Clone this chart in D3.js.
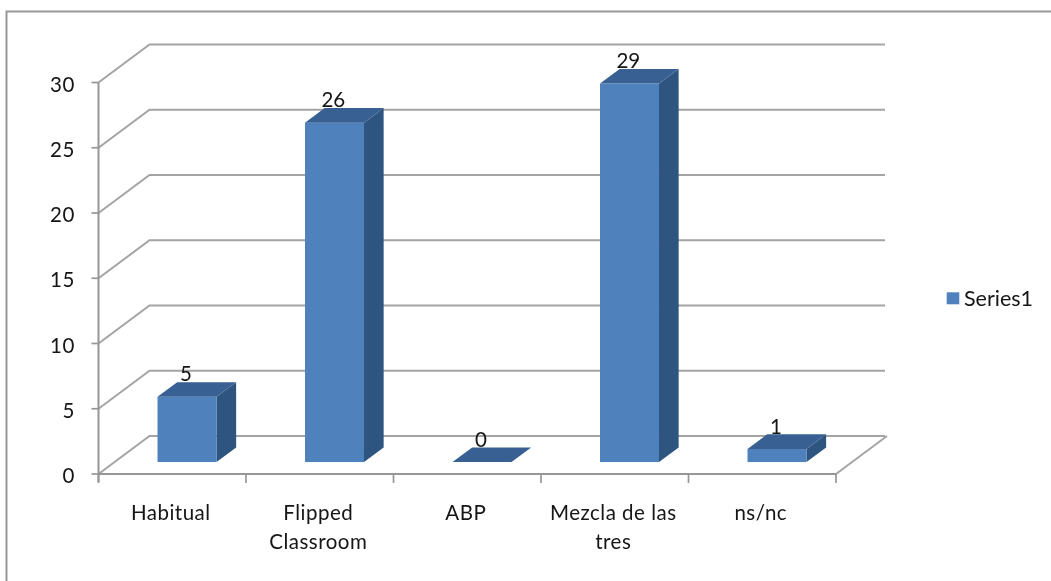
<!DOCTYPE html>
<html><head><meta charset="utf-8">
<script src="https://cdn.jsdelivr.net/npm/d3@7"></script>
<style>
html,body{margin:0;padding:0;background:#fff;}
svg{display:block;}
text{font-family:Lato,"Open Sans",sans-serif;fill:#141414;}
</style></head><body>
<svg id="c" width="1051" height="581"></svg>
<script>
const categories = ["Habitual","Flipped Classroom","ABP","Mezcla de las tres","ns/nc"];
const categoryLines = [["Habitual"],["Flipped","Classroom"],["ABP"],["Mezcla de las","tres"],["ns/nc"]];
const seriesName = "Series1";
const values = [5,26,0,29,1];
const yTicks = [0,5,10,15,20,25,30];

const svg = d3.select("#c");
const defs = svg.append("defs");
defs.append("filter").attr("id","soft").attr("x","-5%").attr("y","-5%").attr("width","110%").attr("height","110%")
  .append("feGaussianBlur").attr("stdDeviation",0.6);
const root = svg.append("g").attr("filter","url(#soft)");

const x = d3.scaleBand().domain(categories).range([98.5,836]).paddingInner(0.6).paddingOuter(0.3);
const xStep = d3.scaleBand().domain(categories).range([98.5,836]);
const y = d3.scaleLinear().domain([0,30]).range([474,82.5]);
// oblique depth projection: 0 = front plane, 1 = back wall
const dx = d3.scaleLinear().domain([0,1]).range([0,51]);
const dy = d3.scaleLinear().domain([0,1]).range([0,-38]);
const frontDepth = 0.315, backDepth = 0.70;
const barShift = dx(frontDepth);

const gridColor = "#a4a4a4", axisColor = "#969696";
const wallX = 98.5, endX = 836, gridEnd = 885;
const fontSize = 20.5;

// chart frame (only top and left are visible in the crop)
root.append("path").attr("d","M6.5,590V11.5H1060").attr("fill","none").attr("stroke","#989898").attr("stroke-width",2);

// gridlines on wall + side wall
root.append("g").selectAll("path").data(yTicks).join("path")
  .attr("fill","none").attr("stroke",gridColor).attr("stroke-width",2)
  .attr("d",v=>`M${wallX},${y(v)}L${wallX+dx(1)},${y(v)+dy(1)}H${gridEnd}`);
// floor right edge
root.append("path").attr("fill","none").attr("stroke",gridColor).attr("stroke-width",2)
  .attr("d",`M${endX},${y(0)}L${endX+dx(1)},${y(0)+dy(1)}`);

// axes
const yAxis = root.append("g");
yAxis.append("line").attr("x1",wallX).attr("x2",wallX).attr("y1",y(30)).attr("y2",y(0)+8)
  .attr("stroke",axisColor).attr("stroke-width",2);
yAxis.selectAll("line.t").data(yTicks).join("line").attr("class","t")
  .attr("x1",wallX-7).attr("x2",wallX).attr("y1",y).attr("y2",y)
  .attr("stroke",axisColor).attr("stroke-width",1.7);
yAxis.selectAll("text").data(yTicks).join("text")
  .attr("x",75).attr("y",v=>y(v)+9).attr("text-anchor","end")
  .attr("font-size",fontSize).attr("letter-spacing",0.6).text(d=>d);

root.append("line").attr("x1",wallX).attr("x2",endX).attr("y1",y(0)).attr("y2",y(0))
  .attr("stroke",axisColor).attr("stroke-width",2);
const tickXs = categories.map(c=>xStep(c)).concat([endX]);
root.append("g").selectAll("line").data(tickXs).join("line")
  .attr("x1",d=>d).attr("x2",d=>d).attr("y1",y(0)).attr("y2",y(0)+9)
  .attr("stroke",axisColor).attr("stroke-width",1.7);

// bars
const bars = root.append("g").selectAll("g").data(values.map((v,i)=>({v,c:categories[i]}))).join("g");
const frontY0 = y(0)+dy(frontDepth);
const h = v => y(v)-y(0);
const xl = d=>x(d.c)+barShift-1.3, xr = d=>xl(d)+x.bandwidth();
const ddx = dx(backDepth-frontDepth), ddy = dy(backDepth-frontDepth);
bars.append("path").attr("fill","#2f5480") // side
  .attr("d",d=>`M${xr(d)},${frontY0}L${xr(d)+ddx},${frontY0+ddy}V${frontY0+h(d.v)+ddy}L${xr(d)},${frontY0+h(d.v)}Z`);
bars.append("rect").attr("fill","#4f81bd") // front
  .attr("x",xl).attr("width",x.bandwidth()).attr("y",d=>frontY0+h(d.v)).attr("height",d=>-h(d.v));
bars.append("path").attr("fill","#376092") // top
  .attr("d",d=>{const t=frontY0+h(d.v);return `M${xl(d)},${t}L${xl(d)+ddx},${t+ddy}H${xr(d)+ddx}L${xr(d)},${t}Z`;});
// value labels
bars.append("text").attr("text-anchor","middle").attr("font-size",fontSize)
  .attr("x",d=>(xl(d)+xr(d))/2+ddx/2-11)
  .attr("y",d=>frontY0+h(d.v)+ddy-0.8)
  .text(d=>d.v);

// category labels
const lab = root.append("g").selectAll("text").data(categories).join("text")
  .attr("text-anchor","middle").attr("font-size",fontSize).attr("letter-spacing",0.5)
  .attr("y",520);
lab.each(function(c,i){
  d3.select(this).selectAll("tspan").data(categoryLines[i]).join("tspan")
    .attr("x",xStep(c)+xStep.bandwidth()/2-1.5).attr("dy",(d,j)=>j?28.5:0).text(d=>d);
});

// legend
root.append("rect").attr("x",946.7).attr("y",292.3).attr("width",12.6).attr("height",12).attr("fill","#4f81bd");
root.append("text").attr("x",964).attr("y",305.5).attr("font-size",21.5).text(seriesName);
</script>
</body></html>
